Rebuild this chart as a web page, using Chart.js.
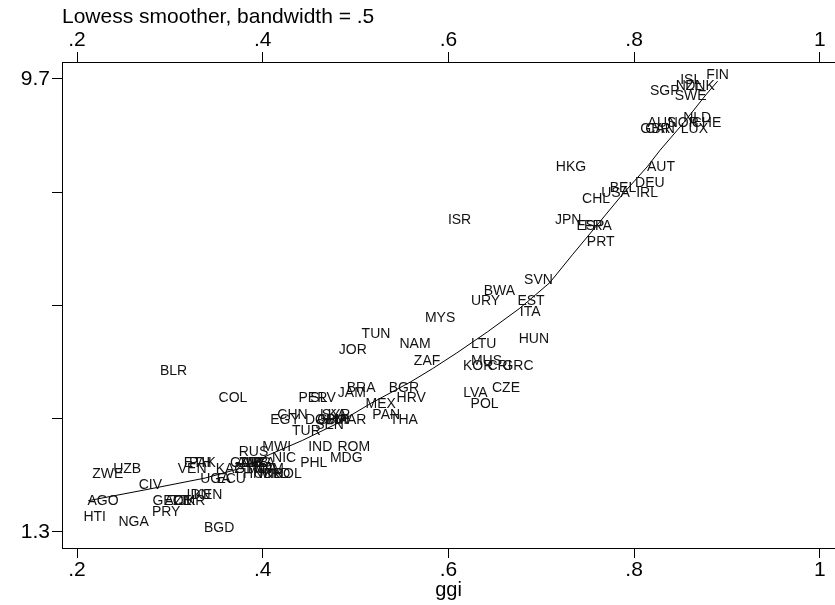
<!DOCTYPE html>
<html>
<head>
<meta charset="utf-8">
<script src="https://cdn.jsdelivr.net/npm/chart.js@4.4.1/dist/chart.umd.min.js"></script>
<style>
  html, body { margin: 0; padding: 0; background: #fff; }
  canvas { display: block; }
</style>
</head>
<body>
<canvas id="lowessChart" width="835" height="605"></canvas>
<script>
const countries = ['FIN','ISL','NZL','DNK','SGP','SWE','NLD','AUS','NOR','CHE','GBR','CAN','LUX',
  'AUT','HKG','DEU','BEL','USA','IRL','CHL','JPN','ISR','ESP','FRA','PRT','SVN','BWA','URY','EST',
  'ITA','MYS','TUN','HUN','LTU','NAM','JOR','MUS','ZAF','KOR','CRI','GRC','BLR','BRA','BGR','CZE',
  'JAM','LVA','COL','HRV','PER','SLV','MEX','POL','CHN','LKA','PAN','SYR','EGY','DOM','GHA','BIH',
  'MAR','THA','SEN','TUR','MWI','IND','ROM','RUS','NIC','MDG','PHL','ETH','PAK','ALB','ARG','GMB',
  'TZA','ZMB','VEN','KAZ','UZB','GTM','MDA','VNM','BOL','HND','UKR','MKD','ZWE','UGA','ECU','CIV',
  'IDN','KEN','AGO','GEO','AZE','CMR','TJK','PRY','HTI','NGA','BGD'];
const ggi = [0.890,0.861,0.859,0.871,0.833,0.861,0.868,0.830,0.853,0.878,0.823,0.828,0.865,
  0.829,0.732,0.817,0.788,0.780,0.814,0.759,0.729,0.612,0.753,0.761,0.764,0.697,0.655,0.640,0.689,
  0.688,0.591,0.522,0.692,0.638,0.564,0.497,0.641,0.577,0.632,0.655,0.675,0.304,0.506,0.552,0.662,
  0.496,0.629,0.368,0.560,0.454,0.465,0.527,0.639,0.432,0.476,0.533,0.479,0.424,0.463,0.475,0.481,
  0.495,0.552,0.472,0.447,0.415,0.462,0.498,0.390,0.423,0.490,0.455,0.330,0.335,0.386,0.393,0.382,
  0.399,0.390,0.324,0.364,0.254,0.386,0.399,0.406,0.427,0.395,0.406,0.413,0.233,0.349,0.366,0.279,
  0.331,0.341,0.228,0.298,0.309,0.321,0.314,0.296,0.219,0.261,0.353];
const cpi = [9.7,9.6,9.5,9.5,9.4,9.3,8.9,8.8,8.8,8.8,8.7,8.7,8.7,
  8.0,8.0,7.7,7.6,7.5,7.5,7.4,7.0,7.0,6.9,6.9,6.6,5.9,5.7,5.5,5.5,
  5.3,5.2,4.9,4.8,4.7,4.7,4.6,4.4,4.4,4.3,4.3,4.3,4.2,3.9,3.9,3.9,
  3.8,3.8,3.7,3.7,3.7,3.7,3.6,3.6,3.4,3.4,3.4,3.4,3.3,3.3,3.3,3.3,
  3.3,3.3,3.2,3.1,2.8,2.8,2.8,2.7,2.6,2.6,2.5,2.5,2.5,2.5,2.5,2.5,
  2.5,2.5,2.4,2.4,2.4,2.4,2.4,2.4,2.3,2.3,2.3,2.3,2.3,2.2,2.2,2.1,
  1.9,1.9,1.8,1.8,1.8,1.8,1.8,1.6,1.5,1.4,1.3];

// lowess curve
const lowessGgi = [0.212,0.279,0.338,0.376,0.408,0.443,0.480,0.516,0.559,0.583,0.609,
  0.642,0.677,0.709,0.734,0.763,0.788,0.814,0.828,0.853,0.878,0.890];
const lowessCpi = [1.88,2.10,2.30,2.48,2.74,3.00,3.31,3.68,4.08,4.33,4.62,
  5.01,5.45,5.92,6.45,7.05,7.57,8.07,8.38,8.88,9.42,9.66];

const xTicks = [0.2, 0.4, 0.6, 0.8, 1];
const xTickLabels = ['.2', '.4', '.6', '.8', '1'];
const yTicks = [1.3, 3.4, 5.5, 7.6, 9.7];
const yTickLabels = ['1.3', '', '', '', '9.7'];

const FONT = "'Liberation Sans', Arial, Helvetica, sans-serif";
Chart.defaults.font.family = FONT;
Chart.defaults.color = '#000';

// country codes drawn centred on each (invisible) point
const labelPlugin = {
  id: 'countryLabels',
  afterDatasetsDraw(chart) {
    const ctx = chart.ctx;
    const meta = chart.getDatasetMeta(0);
    ctx.save();
    ctx.font = '14px ' + FONT;
    ctx.fillStyle = '#111';
    ctx.textAlign = 'center';
    ctx.textBaseline = 'middle';
    meta.data.forEach((pt, i) => {
      ctx.fillText(countries[i], pt.x, pt.y - 4);
    });
    ctx.restore();
  }
};

const axisGrid = { display: true, drawOnChartArea: false, drawTicks: true, tickLength: 10, color: '#000', lineWidth: 1 };
const axisBorder = { display: true, color: '#000', width: 1 };

function setXTicks(scale) {
  scale.ticks = xTicks.map(v => ({ value: v }));
}
function xLabel(value) {
  const i = xTicks.findIndex(t => Math.abs(t - value) < 1e-9);
  return i >= 0 ? xTickLabels[i] : '';
}

new Chart(document.getElementById('lowessChart').getContext('2d'), {
  type: 'scatter',
  data: {
    datasets: [
      {
        label: 'cpi',
        data: countries.map((c, i) => ({ x: ggi[i], y: cpi[i] })),
        pointRadius: 0,
        pointHoverRadius: 0
      },
      {
        label: 'lowess',
        data: lowessGgi.map((x, i) => ({ x, y: lowessCpi[i] })),
        showLine: true,
        borderColor: '#000',
        borderWidth: 1,
        pointRadius: 0,
        tension: 0,
        fill: false
      }
    ]
  },
  options: {
    responsive: false,
    animation: false,
    events: [],
    layout: { padding: 0 },
    plugins: {
      legend: { display: false },
      tooltip: { enabled: false }
    },
    scales: {
      x: {
        type: 'linear',
        position: 'bottom',
        min: 0.1838,
        max: 1.0164,
        afterBuildTicks: setXTicks,
        afterFit(scale) { scale.height = 57; },
        grid: axisGrid,
        border: axisBorder,
        ticks: { font: { size: 21 }, color: '#000', padding: 0, maxRotation: 0, autoSkip: false, callback: xLabel },
        title: { display: true, text: 'ggi', font: { size: 20 }, color: '#000', padding: { top: 0, bottom: 3 } }
      },
      x2: {
        type: 'linear',
        position: 'top',
        axis: 'x',
        min: 0.1838,
        max: 1.0164,
        afterBuildTicks: setXTicks,
        afterFit(scale) { scale.height = 62; },
        grid: axisGrid,
        border: axisBorder,
        ticks: { font: { size: 21 }, color: '#000', padding: -1, maxRotation: 0, autoSkip: false, callback: xLabel },
        title: { display: true, text: 'Lowess smoother, bandwidth = .5', align: 'start', font: { size: 21 }, color: '#000', padding: { top: 5, bottom: 0 } }
      },
      y: {
        type: 'linear',
        position: 'left',
        min: 1.003,
        max: 10.015,
        afterBuildTicks(scale) { scale.ticks = yTicks.map(v => ({ value: v })); },
        afterFit(scale) { scale.width = 62; },
        grid: axisGrid,
        border: axisBorder,
        ticks: {
          font: { size: 21 }, color: '#000', padding: 2, autoSkip: false,
          callback(value) {
            const i = yTicks.findIndex(t => Math.abs(t - value) < 1e-9);
            return i >= 0 ? yTickLabels[i] : '';
          }
        }
      }
    }
  },
  plugins: [labelPlugin]
});
</script>
</body>
</html>
